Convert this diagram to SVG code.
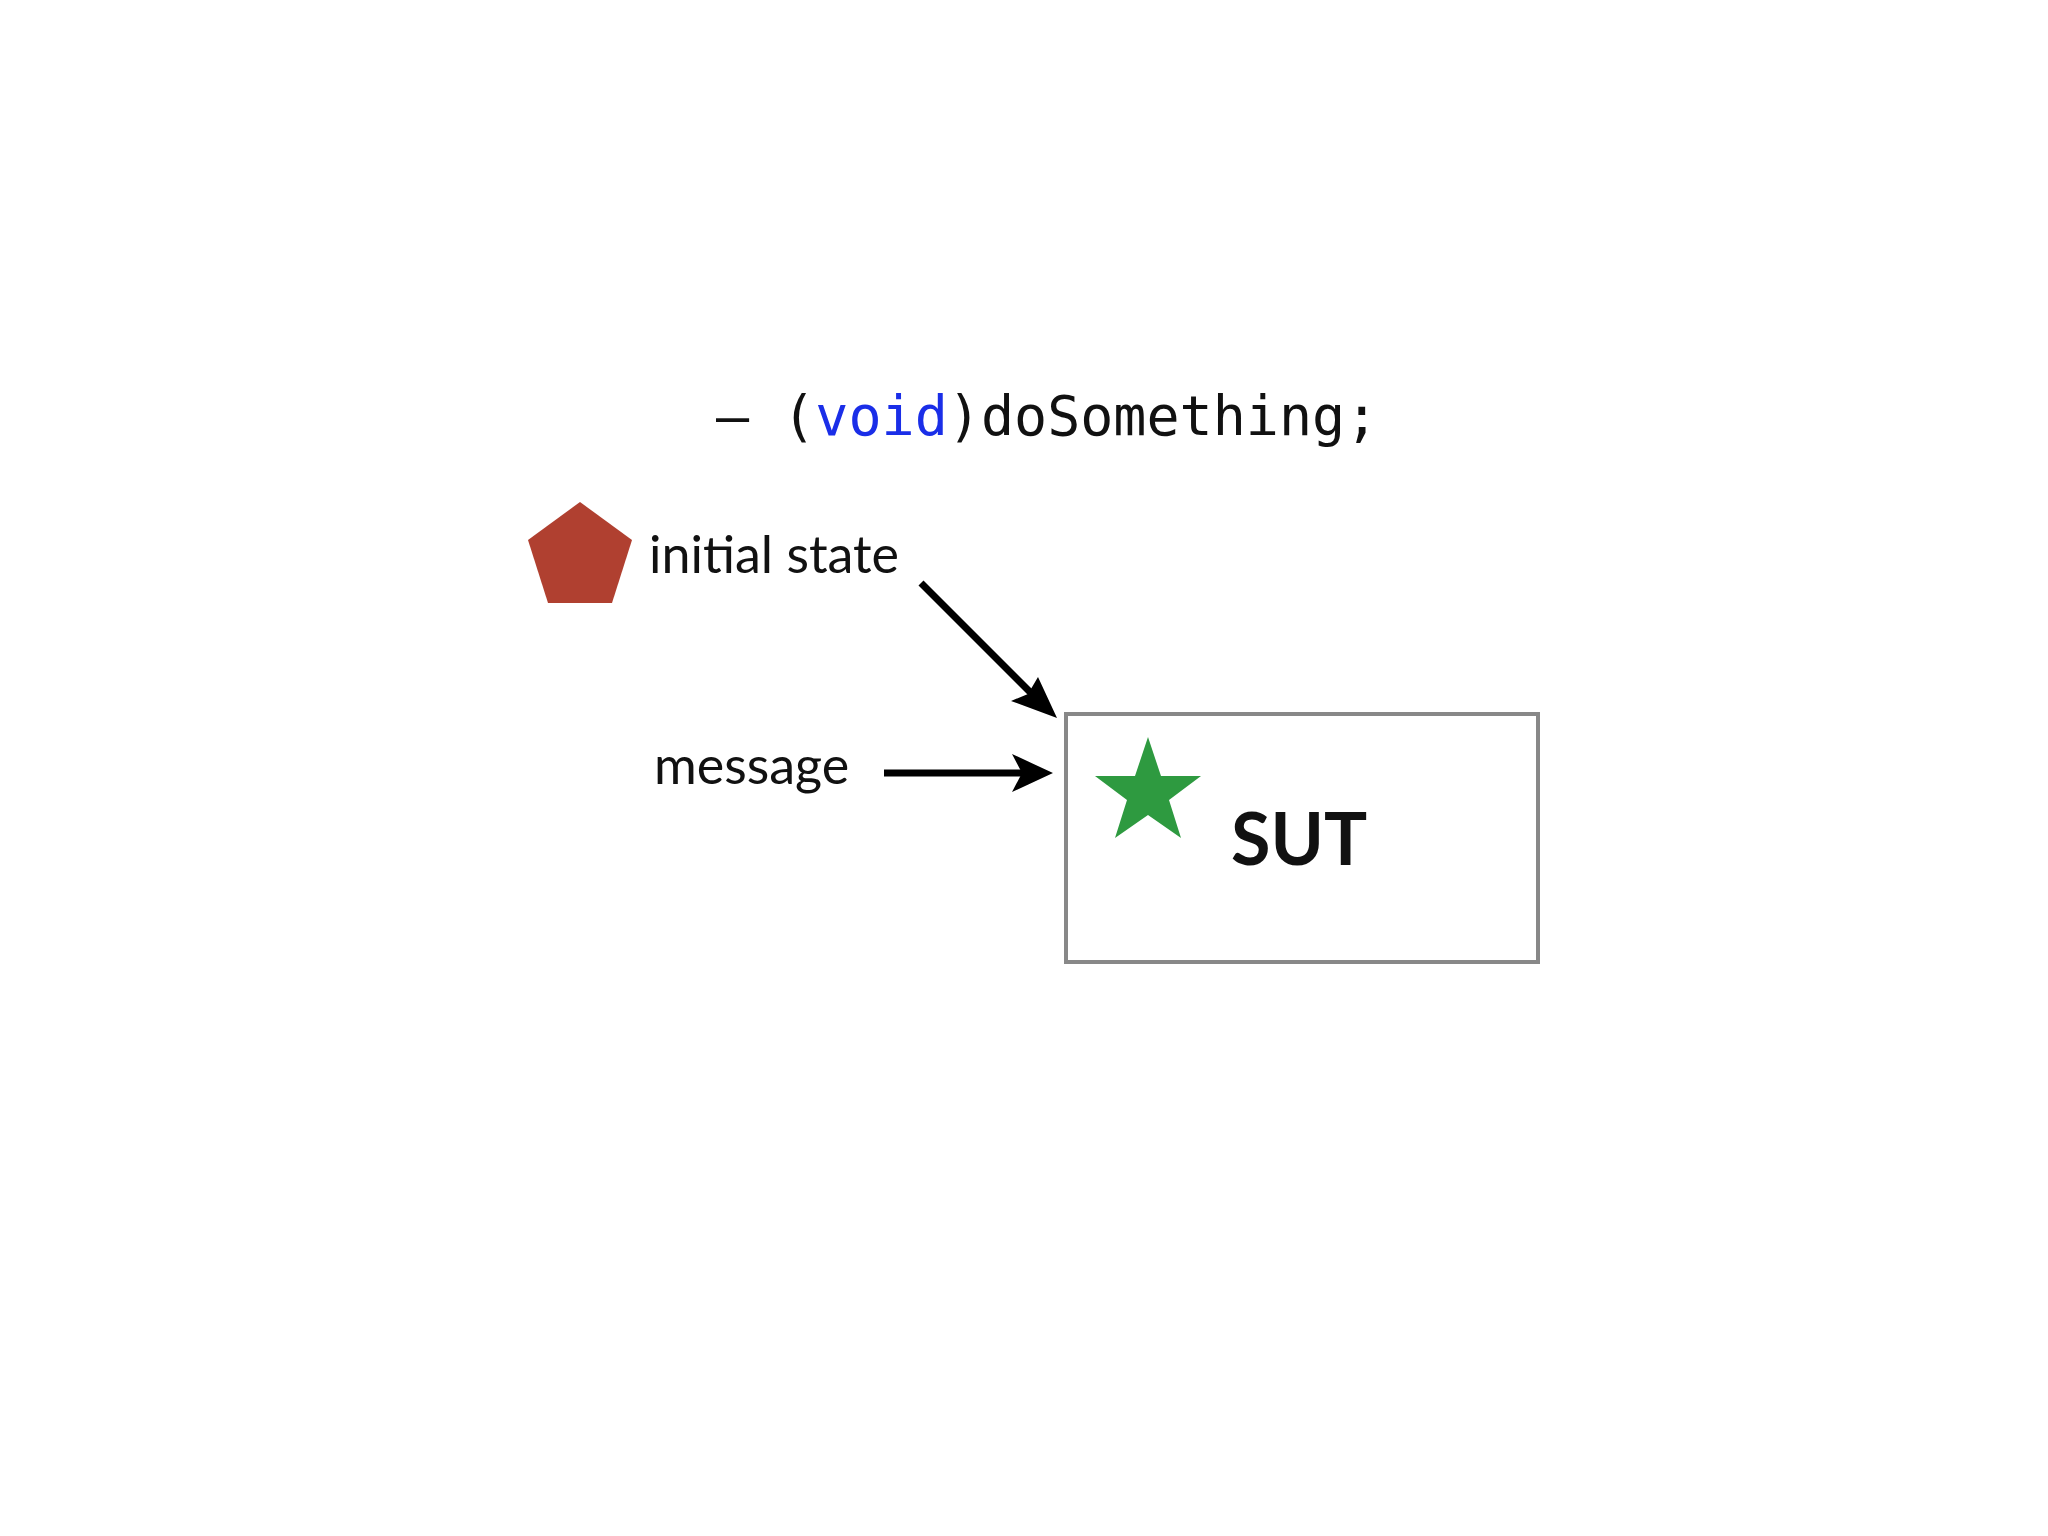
<svg xmlns="http://www.w3.org/2000/svg" width="2048" height="1536" viewBox="0 0 2048 1536">
<style>
.lbl{font-family:Lato,"Liberation Sans",sans-serif;font-size:52px;fill:#111}
.code{font-family:"DejaVu Sans Mono",monospace;font-size:55px;fill:#111}
.ar{stroke:#000;stroke-width:7;fill:none}
</style>
<defs>
<marker id="ah" markerWidth="8" markerHeight="8" refX="7" refY="4" orient="auto" markerUnits="userSpaceOnUse" viewBox="0 0 8 8" style="overflow:visible">
<path d="M-38,-20 L7,4 L-38,28 L-26,4 Z" transform="translate(0,0)" fill="#000"/>
</marker>
</defs>
<rect width="2048" height="1536" fill="#fff"/>
<g id="code"><text class="code" x="716" y="435">– (<tspan fill="#1a2ee8">void</tspan>)doSomething;</text></g>
<g id="initial"><polygon points="580,502 632,540 612,603 548,603 528,540" fill="#b04030"/><text class="lbl" x="649" y="573">initial state</text></g>
<g id="message"><text class="lbl" x="654" y="784">message</text></g>
<g id="sut"><rect x="1066" y="714" width="472" height="248" fill="none" stroke="#888" stroke-width="4"/>
<polygon points="1148,737 1161,776 1201,776 1169,800 1181,838 1148,815 1115,838 1127,800 1095,776 1135,776" fill="#2e9a40"/>
<text x="1231" y="865" font-family="Lato,'Liberation Sans',sans-serif" font-weight="bold" font-size="72" fill="#111">SUT</text></g>
<g id="connectors">
<line class="ar" x1="921" y1="583" x2="1045" y2="707"/>
<polygon points="1057,718 1011,701 1028,694 1038,677" fill="#000"/>
<line class="ar" x1="884" y1="773" x2="1040" y2="773"/>
<polygon points="1053,773 1012,754 1022,773 1012,792" fill="#000"/>
</g>
</svg>
